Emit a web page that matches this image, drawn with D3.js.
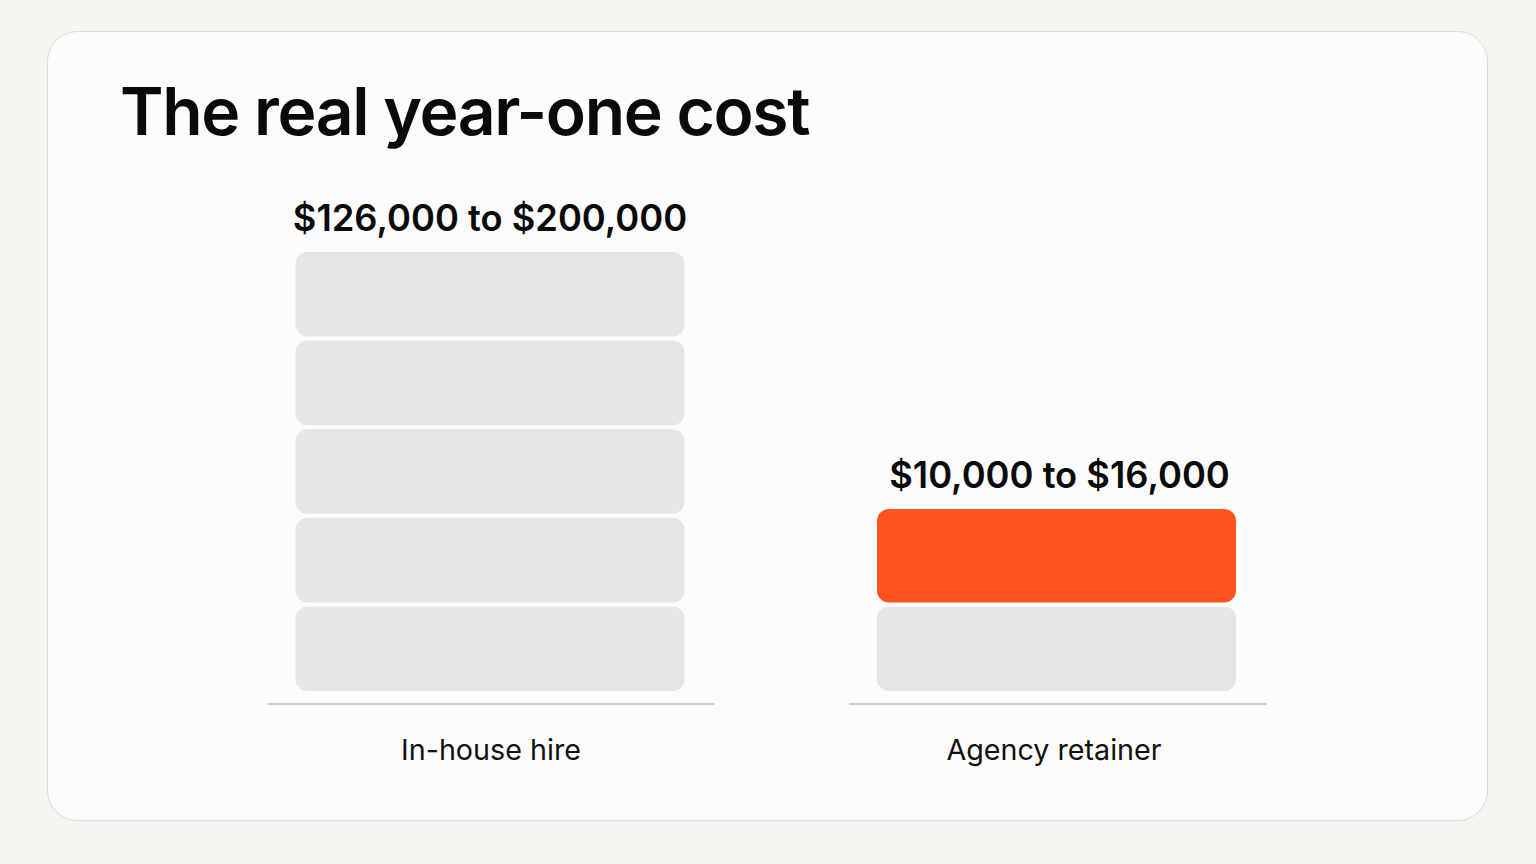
<!DOCTYPE html>
<html>
<head>
<meta charset="utf-8">
<script src="https://cdn.jsdelivr.net/npm/d3@7"></script>
<style>
html,body{margin:0;padding:0;background:#f6f5f2;}
svg{display:block;}
</style>
</head>
<body>
<svg id="chart" width="1536" height="864"></svg>
<script>
// ---- data ----
const title = "The real year-one cost";
const categories = ["In-house hire", "Agency retainer"];
const rangeLabels = ["$126,000 to $200,000", "$10,000 to $16,000"];
// stacked block sizes (in relative units) per category, bottom to top
const inhouseBlocks = [1, 1, 1, 1, 1];
const agencyBlocks = [1, 1.1];
const highlightBlock = [null, 1]; // index of highlighted block per category

// ---- style ----
const grey = "#e6e6e6", orange = "#ff521f";
const gap = 4;
const barWidths = [389, 359];
const baseWidths = [447, 418];
const centerNudge = [1, -0.5];
const labelNudge = [0, 3];
const catNudge = [1, -2.5];
const baseNudge = [1, 1.5];

const svg = d3.select("#chart");
svg.append("rect").attr("x", 47.5).attr("y", 31.5).attr("width", 1440).attr("height", 789)
  .attr("rx", 30).attr("fill", "#fcfcfc").attr("stroke", "#dcdcdc").attr("stroke-width", 1);

svg.append("text").attr("x", 120).attr("y", 135).text(title)
  .attr("font-family", "Inter, 'Noto Sans', sans-serif").attr("font-weight", 600)
  .attr("font-size", 66).attr("fill", "#0a0a0a").attr("letter-spacing", "-1.4");

const x = d3.scaleBand().domain(categories).range([205, 1341]).padding(0);
const baseY = 693;
const y = d3.scaleLinear().domain([0, 5]).range([baseY, baseY - 5 * 88.6]);

const stacks = [inhouseBlocks, agencyBlocks];
categories.forEach((cat, i) => {
  const cx = x(cat) + x.bandwidth() / 2 + centerNudge[i];
  const blocks = stacks[i];
  let cum = 0;
  const segs = blocks.map((v, j) => { const s = { y0: cum, y1: cum + v, j }; cum += v; return s; });
  const g = svg.append("g");
  g.selectAll("rect").data(segs).join("rect")
    .attr("x", cx - barWidths[i] / 2)
    .attr("width", barWidths[i])
    .attr("y", d => y(d.y1) + gap / 2)
    .attr("height", d => y(d.y0) - y(d.y1) - gap)
    .attr("rx", 12)
    .attr("fill", d => d.j === highlightBlock[i] ? orange : grey);
  // baseline
  g.append("line").attr("x1", cx + baseNudge[i] - baseWidths[i] / 2).attr("x2", cx + baseNudge[i] + baseWidths[i] / 2)
    .attr("y1", 704).attr("y2", 704).attr("stroke", "#cfcfcf").attr("stroke-width", 2);
  // value label
  g.append("text").attr("x", cx + labelNudge[i]).attr("y", y(cum) - 19).attr("text-anchor", "middle")
    .text(rangeLabels[i]).attr("font-family", "Inter, 'Noto Sans', sans-serif")
    .attr("font-weight", 600).attr("font-size", 36.3).attr("fill", "#0a0a0a");
  // category label
  g.append("text").attr("x", cx + catNudge[i]).attr("y", 760).attr("text-anchor", "middle")
    .text(cat).attr("font-family", "Inter, 'Noto Sans', sans-serif")
    .attr("font-weight", 400).attr("font-size", 28.7).attr("fill", "#111");
});
</script>
</body>
</html>
